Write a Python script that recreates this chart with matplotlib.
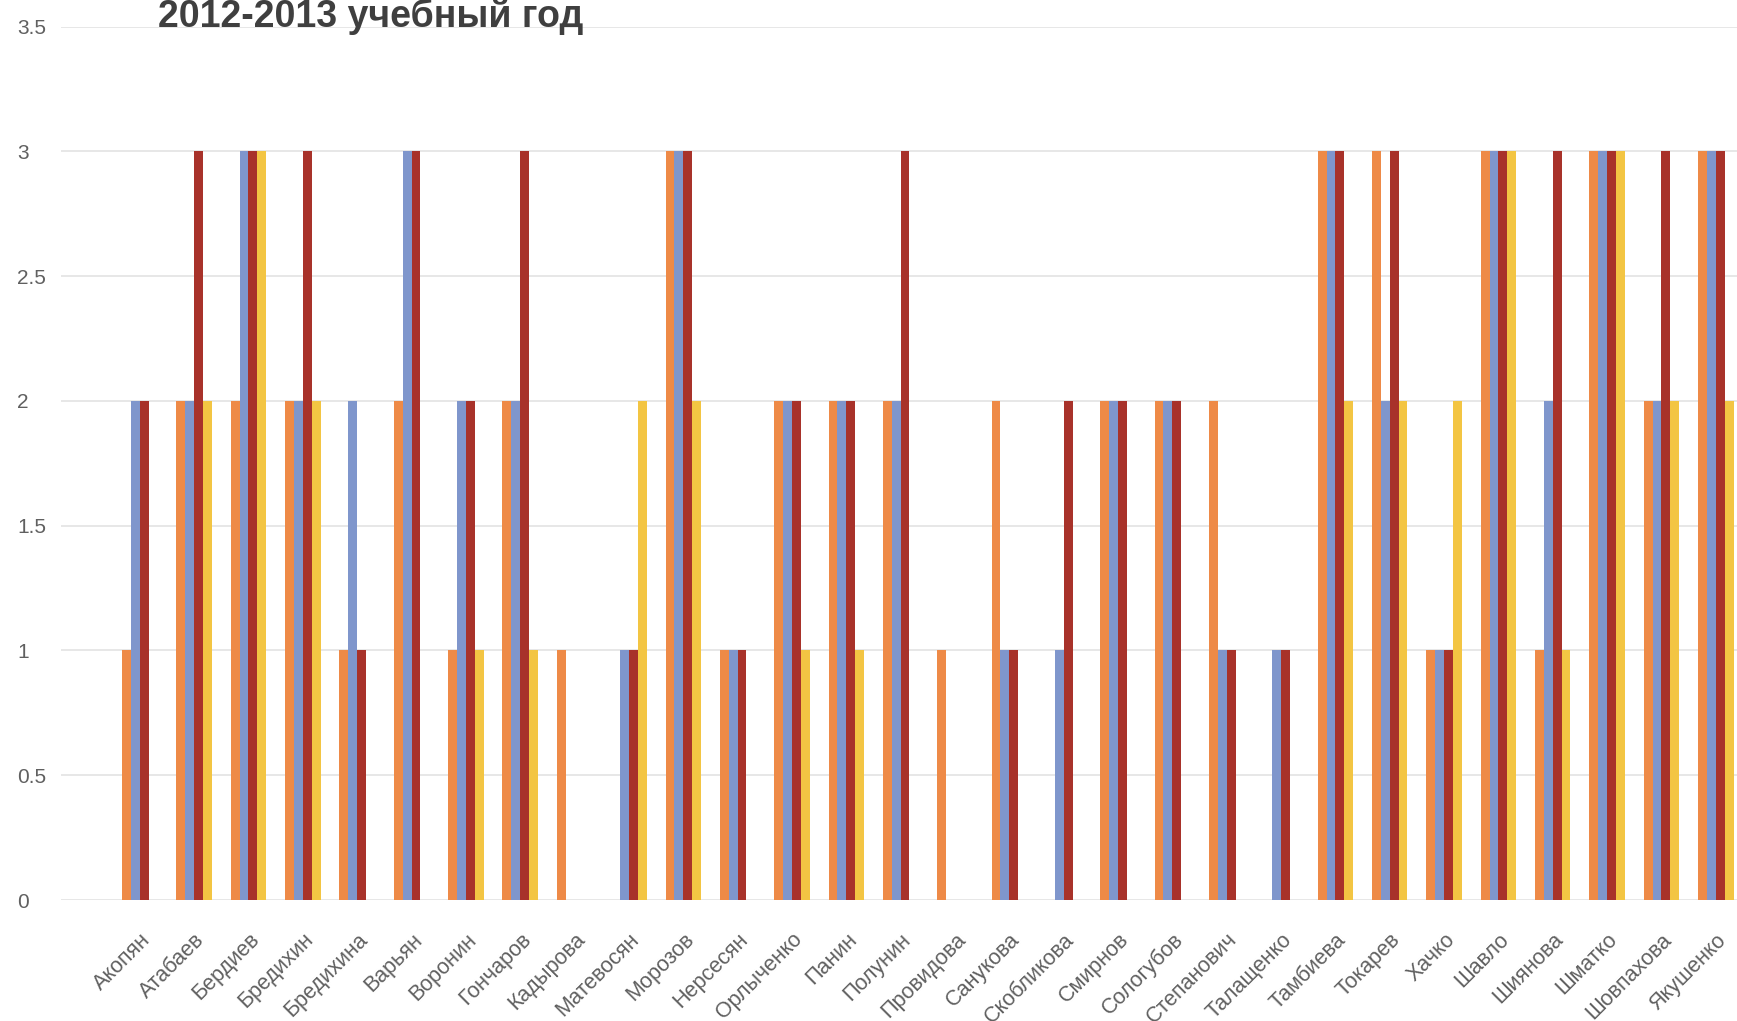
import numpy as np
import matplotlib
matplotlib.use("Agg")
import matplotlib.pyplot as plt

plt.rcParams['font.family'] = ['Liberation Sans', 'DejaVu Sans']

# names of pupils
names = ['Акопян', 'Атабаев', 'Бердиев', 'Бредихин', 'Бредихина', 'Варьян',
         'Воронин', 'Гончаров', 'Кадырова', 'Матевосян', 'Морозов', 'Нерсесян',
         'Орлыченко', 'Панин', 'Полунин', 'Провидова', 'Санукова', 'Скобликова',
         'Смирнов', 'Сологубов', 'Степанович', 'Талащенко', 'Тамбиева', 'Токарев',
         'Хачко', 'Шавло', 'Шиянова', 'Шматко', 'Шовпахова', 'Якушенко']

# four series
orange = [1, 2, 2, 2, 1, 2, 1, 2, 1, 0, 3, 1, 2, 2, 2, 1, 2, 0, 2, 2, 2, 0, 3, 3, 1, 3, 1, 3, 2, 3]
blue   = [2, 2, 3, 2, 2, 3, 2, 2, 0, 1, 3, 1, 2, 2, 2, 0, 1, 1, 2, 2, 1, 1, 3, 2, 1, 3, 2, 3, 2, 3]
red    = [2, 3, 3, 3, 1, 3, 2, 3, 0, 1, 3, 1, 2, 2, 3, 0, 1, 2, 2, 2, 1, 1, 3, 3, 1, 3, 3, 3, 3, 3]
yellow = [0, 2, 3, 2, 0, 0, 1, 1, 0, 2, 2, 0, 1, 1, 0, 0, 0, 0, 0, 0, 0, 0, 2, 2, 2, 3, 1, 3, 2, 2]

series = [orange, blue, red, yellow]
colors = ['#EE8A47', '#7F96CC', '#A8322A', '#F3C543']

fig = plt.figure(figsize=(17.37, 10.21), dpi=100)
ax = fig.add_axes([0.0351, 0.1185, 0.9649, 0.8555])

x = np.arange(len(names))
w = 0.163
for k, (vals, c) in enumerate(zip(series, colors)):
    ax.bar(x + (k - 1.5) * w, vals, width=w, color=c, zorder=3, linewidth=0)

ax.set_ylim(0, 3.5)
ax.set_xlim(-1.45, 29.39)
ax.set_yticks(np.arange(0, 3.51, 0.5))
ax.set_yticklabels(['0', '0.5', '1', '1.5', '2', '2.5', '3', '3.5'])
ax.yaxis.grid(True, color='#E3E3E3', linewidth=1.2, zorder=0)
ax.tick_params(axis='y', length=0, pad=31.5, labelsize=15, labelcolor='#606060')
for lab in ax.get_yticklabels():
    lab.set_horizontalalignment('left')

ax.set_xticks(x)
ax.set_xticklabels(names, rotation=45, ha='right', rotation_mode='anchor',
                   fontsize=15.5, color='#606060')
ax.tick_params(axis='x', length=0, pad=21)

for s in ax.spines.values():
    s.set_visible(False)

fig.text(0.091, 1 - 27 / 1021, '2012-2013 учебный год', fontsize=27,
         fontweight='bold', color='#3F3F3F', va='baseline', ha='left')

fig.savefig('out.png', dpi=100)
